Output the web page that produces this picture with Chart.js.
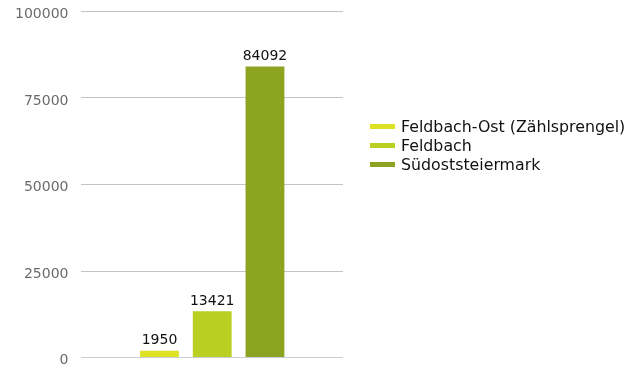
<!DOCTYPE html>
<html lang="de">
<head>
<meta charset="utf-8">
<script src="https://cdn.jsdelivr.net/npm/chart.js@4/dist/chart.umd.min.js"></script>
<style>
  html, body { margin: 0; padding: 0; background: #fff; }
  #wrap { position: relative; width: 640px; height: 369px; }
  #legend {
    position: absolute; left: 370px; top: 117px;
    font: 15.8px "DejaVu Sans", sans-serif; color: #111;
    list-style: none; margin: 0; padding: 0;
  }
  #legend li { display: flex; align-items: center; height: 19px; white-space: nowrap; }
  #legend span.box { display: inline-block; width: 25px; height: 5px; margin-right: 6px; }
</style>
</head>
<body>
<div id="wrap">
  <canvas id="myChart" width="640" height="369"></canvas>
  <ul id="legend"></ul>
</div>
<script>
//data
const categories = [''];
const seriesNames = ['Feldbach-Ost (Zählsprengel)', 'Feldbach', 'Südoststeiermark'];
const seriesValues = [[1950], [13421], [84092]];
const seriesColors = ['#dde224', '#b9cf22', '#8da422'];
const tickValues = [0, 25000, 50000, 75000, 100000];

const fontFamily = '"DejaVu Sans", sans-serif';

// value on top of each bar
const barValues = {
    id: 'barValues',
    afterDatasetsDraw(chart) {
        const ctx = chart.ctx;
        ctx.save();
        ctx.font = '14px ' + fontFamily;
        ctx.fillStyle = '#111';
        ctx.textAlign = 'center';
        ctx.textBaseline = 'bottom';
        chart.data.datasets.forEach((ds, i) => {
            chart.getDatasetMeta(i).data.forEach((bar, j) => {
                ctx.fillText(String(ds.data[j]), bar.x, bar.y - 3);
            });
        });
        ctx.restore();
    }
};

const ctx = document.getElementById('myChart').getContext('2d');

const myChart = new Chart(ctx, {
    type: 'bar',
    data: {
        labels: categories,
        datasets: seriesNames.map((name, i) => ({
            label: name,
            data: seriesValues[i],
            backgroundColor: seriesColors[i],
            borderWidth: 0
        }))
    },
    options: {
        responsive: false,
        animation: false,
        categoryPercentage: 0.605,
        barPercentage: 0.736,
        layout: {
            padding: { top: 1, bottom: 0, left: 12, right: 297 }
        },
        scales: {
            x: { display: false },
            y: {
                min: 0,
                max: 100000,
                afterBuildTicks: (axis) => {
                    axis.ticks = tickValues.map(v => ({ value: v }));
                },
                border: { display: false },
                grid: {
                    tickLength: 10,
                    tickColor: 'rgba(0,0,0,0)',
                    color: (c) => c.tick && c.tick.value === 0 ? '#c6ced8' : '#c4c4c4'
                },
                ticks: {
                    padding: 3,
                    labelOffset: 3,
                    color: '#6b6b6b',
                    font: { family: fontFamily, size: 14 },
                    callback: (v) => String(v)
                }
            }
        },
        plugins: {
            legend: { display: false },
            tooltip: { enabled: false }
        }
    },
    plugins: [barValues]
});

//legend
const legend = document.getElementById('legend');
seriesNames.forEach((name, i) => {
    const li = document.createElement('li');
    const box = document.createElement('span');
    box.className = 'box';
    box.style.background = seriesColors[i];
    li.appendChild(box);
    li.appendChild(document.createTextNode(name));
    legend.appendChild(li);
});
</script>
</body>
</html>
